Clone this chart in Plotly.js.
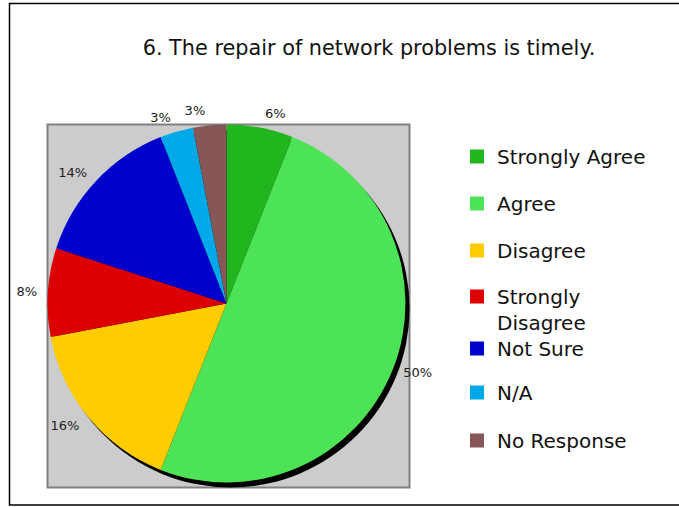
<!DOCTYPE html>
<html>
<head>
<meta charset="utf-8">
<script src="https://cdn.plot.ly/plotly-3.0.1.min.js"></script>
<style>html,body{margin:0;padding:0;background:#fff;}#chart{width:679px;height:507px;}</style>
</head>
<body>
<div id="chart"></div>
<script>
const categories = ["Strongly Agree", "Agree", "Disagree", "Strongly Disagree", "Not Sure", "N/A", "No Response"];
const legendLabels = ["Strongly Agree", "Agree", "Disagree", "Strongly<br>Disagree", "Not Sure", "N/A", "No Response"];
const values = [6, 50, 16, 8, 14, 3, 3];
const colors = ["#21b61e", "#4de356", "#ffcc00", "#dd0000", "#0000cc", "#00a8e8", "#875757"];

const W = 679, H = 507;
const px = x => x / W;
const py = y => 1 - y / H;

// pie geometry (pixels)
const cx = 226.5, cy = 303.5, r = 179;
const dom = (ox, oy, rr) => ({x: [px(cx - rr + ox), px(cx + rr + ox)], y: [py(cy + rr + oy), py(cy - rr + oy)]});

const traces = [];
// drop shadow
traces.push({
  type: "pie", values: [1], labels: ["shadow"], sort: false,
  marker: {colors: ["#000000"], line: {width: 0}},
  textinfo: "none", hoverinfo: "skip", showlegend: false,
  domain: dom(4, 5, r)
});
// pie slices
traces.push({
  type: "pie", values: values, labels: categories, sort: false, direction: "clockwise", rotation: 0,
  marker: {colors: colors, line: {width: 0}},
  textinfo: "none", showlegend: false, hoverinfo: "skip",
  domain: dom(0, 0, r)
});
// percentage labels: same data on a transparent, slightly larger ring; split in two so the
// two small neighbouring labels are not pushed apart with a leader line
const labelSets = [categories.map(c => c === "N/A" ? "none" : "outside"),
                   categories.map(c => c === "N/A" ? "outside" : "none")];
labelSets.forEach(tp => traces.push({
  type: "pie", values: values, labels: categories, sort: false, direction: "clockwise", rotation: 0,
  marker: {colors: categories.map(() => "rgba(0,0,0,0)"), line: {width: 0}},
  texttemplate: "%{value}%", textposition: tp,
  outsidetextfont: {family: "DejaVu Sans", size: 13, color: "#222"},
  showlegend: false, hoverinfo: "skip",
  domain: dom(0, 0, r + 7)
}));

const legendY = [156, 203, 250, 296, 348, 392, 440];
const layout = {
  width: W, height: H,
  margin: {l: 0, r: 0, t: 0, b: 0},
  paper_bgcolor: "#ffffff", plot_bgcolor: "rgba(0,0,0,0)",
  font: {family: "DejaVu Sans", color: "#111"},
  title: {text: "6. The repair of network problems is timely.", font: {family: "DejaVu Sans", size: 20.8, color: "#111"},
          x: px(369), xanchor: "center", y: py(48), yanchor: "middle", xref: "paper", yref: "paper"},
  xaxis: {visible: false, domain: [0.99, 1]},
  yaxis: {visible: false, domain: [0.99, 1]},
  shapes: [
    {type: "rect", xref: "paper", yref: "paper", x0: px(9.5), x1: px(700), y0: py(505), y1: py(3.5),
     line: {color: "#000", width: 1.5}, fillcolor: "rgba(0,0,0,0)", layer: "below"},
    {type: "rect", xref: "paper", yref: "paper", x0: px(47.5), x1: px(409.5), y0: py(487.5), y1: py(124.5),
     line: {color: "#808080", width: 2}, fillcolor: "#cccccc", layer: "below"}
  ]
};

categories.forEach((c, i) => {
  const key = i === 0 ? "legend" : "legend" + (i + 1);
  traces.push({
    type: "scatter", mode: "markers", x: [null], y: [null], name: legendLabels[i],
    marker: {symbol: "square", size: 14, color: colors[i]},
    showlegend: true, legend: key, hoverinfo: "skip"
  });
  layout[key] = {
    x: px(457), xanchor: "left", y: py(legendY[i] - 19), yanchor: "top",
    bgcolor: "rgba(0,0,0,0)", borderwidth: 0, valign: "top",
    font: {family: "DejaVu Sans", size: 20, color: "#111"}
  };
});

Plotly.newPlot("chart", traces, layout, {displayModeBar: false, staticPlot: true});
</script>
</body>
</html>
